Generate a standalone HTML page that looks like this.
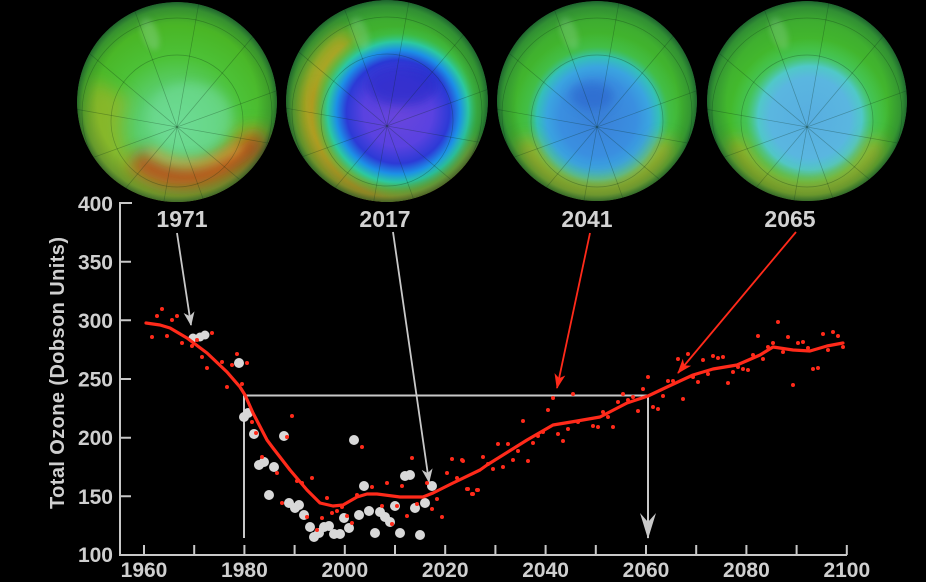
<!DOCTYPE html>
<html><head><meta charset="utf-8"><style>
html,body{margin:0;padding:0;background:#000;}
svg{display:block;}
</style></head><body>
<svg width="926" height="582" viewBox="0 0 926 582" xmlns="http://www.w3.org/2000/svg">
<defs>
<filter id="bl8" filterUnits="userSpaceOnUse" x="0" y="-30" width="926" height="280"><feGaussianBlur stdDeviation="8"/></filter>
<filter id="bl5" filterUnits="userSpaceOnUse" x="0" y="-30" width="926" height="280"><feGaussianBlur stdDeviation="5"/></filter>
<filter id="bl3" filterUnits="userSpaceOnUse" x="0" y="-30" width="926" height="280"><feGaussianBlur stdDeviation="3"/></filter>
<radialGradient id="vig" cx="0.5" cy="0.5" r="0.5">
<stop offset="0.8" stop-color="#0b3b3a" stop-opacity="0"/>
<stop offset="0.94" stop-color="#0b3b3a" stop-opacity="0.22"/>
<stop offset="1" stop-color="#06302c" stop-opacity="0.55"/>
</radialGradient>
<radialGradient id="base1" cx="0.5" cy="0.62" r="0.62">
<stop offset="0" stop-color="#6ada92"/>
<stop offset="0.3" stop-color="#5ccf72"/>
<stop offset="0.55" stop-color="#4cc238"/>
<stop offset="0.8" stop-color="#4ab626"/>
<stop offset="1" stop-color="#3ea030"/>
</radialGradient>
<radialGradient id="baseG" cx="0.5" cy="0.6" r="0.6">
<stop offset="0" stop-color="#4ac446"/>
<stop offset="0.6" stop-color="#44bc2c"/>
<stop offset="1" stop-color="#3aa232"/>
</radialGradient>
<radialGradient id="hole2" cx="0.5" cy="0.5" r="0.5">
<stop offset="0" stop-color="#6a46dc"/>
<stop offset="0.4" stop-color="#5a42e0"/>
<stop offset="0.6" stop-color="#2c3ad6"/>
<stop offset="0.72" stop-color="#1c90e6"/>
<stop offset="0.82" stop-color="#2cc8a0"/>
<stop offset="0.92" stop-color="#3cc050" stop-opacity="0.5"/>
<stop offset="1" stop-color="#3cc050" stop-opacity="0"/>
</radialGradient>
<radialGradient id="hole3" cx="0.5" cy="0.5" r="0.5">
<stop offset="0" stop-color="#3a80d8"/>
<stop offset="0.45" stop-color="#3a8fe0"/>
<stop offset="0.6" stop-color="#3aa4e0"/>
<stop offset="0.72" stop-color="#34c0b8"/>
<stop offset="0.84" stop-color="#40c060" stop-opacity="0.5"/>
<stop offset="1" stop-color="#40c060" stop-opacity="0"/>
</radialGradient>
<radialGradient id="hole4" cx="0.5" cy="0.5" r="0.5">
<stop offset="0" stop-color="#58aee0"/>
<stop offset="0.5" stop-color="#5ab6e0"/>
<stop offset="0.65" stop-color="#50c8c8"/>
<stop offset="0.8" stop-color="#44c870" stop-opacity="0.6"/>
<stop offset="1" stop-color="#44c870" stop-opacity="0"/>
</radialGradient>
<clipPath id="c1"><circle cx="177" cy="102" r="100"/></clipPath>
<clipPath id="c2"><circle cx="387" cy="101" r="101"/></clipPath>
<clipPath id="c3"><circle cx="597" cy="101" r="100"/></clipPath>
<clipPath id="c4"><circle cx="807" cy="101" r="100"/></clipPath>
<g id="mer" stroke="#0a2a12" stroke-opacity="0.3" stroke-width="0.7" fill="none">
<line x1="216.7" y1="38.2" x2="-216.7" y2="-38.2"/>
<line x1="168.5" y1="141.4" x2="-168.5" y2="-141.4"/>
<line x1="75.2" y1="206.7" x2="-75.2" y2="-206.7"/>
<line x1="-38.2" y1="216.7" x2="38.2" y2="-216.7"/>
<line x1="-141.4" y1="168.5" x2="141.4" y2="-168.5"/>
<line x1="-206.7" y1="75.2" x2="206.7" y2="-75.2"/>
<circle cx="0" cy="-6" r="66"/>
<circle cx="0" cy="-14" r="95"/>
</g>
<marker id="ag" viewBox="-16 -8 18 16" refX="0" refY="0" markerWidth="18" markerHeight="16" markerUnits="userSpaceOnUse" orient="auto">
<path d="M1,0 L-13,-5.5 L-9,0 L-13,5.5 Z" fill="#c8c8c8"/>
</marker>
<marker id="ar" viewBox="-17 -8 19 16" refX="0" refY="0" markerWidth="19" markerHeight="16" markerUnits="userSpaceOnUse" orient="auto">
<path d="M1,0 L-14,-5.5 L-10,0 L-14,5.5 Z" fill="#ff2a1a"/>
</marker>
<marker id="abig" viewBox="-27 -10 29 20" refX="0" refY="0" markerWidth="29" markerHeight="20" markerUnits="userSpaceOnUse" orient="auto">
<path d="M1,0 L-25,-8 L-16,0 L-25,8 Z" fill="#c8c8c8"/>
</marker>
</defs>
<rect width="926" height="582" fill="#000"/>

<!-- Globe 1 : 1971 -->
<g clip-path="url(#c1)">
<circle cx="177" cy="102" r="100" fill="url(#base1)"/>
<path d="M112,89.5 A75,75 0 1 0 252,127" stroke="#b8b020" stroke-width="40" fill="none" opacity="0.55" filter="url(#bl8)"/>
<path d="M135,158 Q190,205 262,138" stroke="#c24816" stroke-width="24" fill="none" opacity="0.9" filter="url(#bl8)"/>
<path d="M150,150 Q192,178 240,146" stroke="#d8c050" stroke-width="10" fill="none" opacity="0.5" filter="url(#bl5)"/>
<ellipse cx="190" cy="118" rx="42" ry="35" fill="#72dc9a" opacity="0.55" filter="url(#bl5)"/>
<ellipse cx="150" cy="34" rx="8" ry="17" transform="rotate(-20 150 34)" fill="#9ad8a0" opacity="0.35" filter="url(#bl3)"/>
<use href="#mer" x="177" y="127"/>
<circle cx="177" cy="102" r="100" fill="url(#vig)"/>
</g>

<!-- Globe 2 : 2017 -->
<g clip-path="url(#c2)">
<circle cx="387" cy="101" r="101" fill="url(#baseG)"/>
<path d="M352,41 A82,82 0 1 0 470.1,140" stroke="#c8a020" stroke-width="30" fill="none" opacity="0.8" filter="url(#bl8)"/>
<path d="M320,90 Q318,170 380,195" stroke="#c87a18" stroke-width="18" fill="none" opacity="0.45" filter="url(#bl8)"/>
<circle cx="398" cy="112" r="86" fill="url(#hole2)"/>
<ellipse cx="402" cy="86" rx="36" ry="20" fill="#1a26c4" opacity="0.6" filter="url(#bl5)"/>
<ellipse cx="360" cy="33" rx="8" ry="17" transform="rotate(-20 360 33)" fill="#9ad8a0" opacity="0.3" filter="url(#bl3)"/>
<use href="#mer" x="387" y="126"/>
<circle cx="387" cy="101" r="101" fill="url(#vig)"/>
</g>

<!-- Globe 3 : 2041 -->
<g clip-path="url(#c3)">
<circle cx="597" cy="101" r="100" fill="url(#baseG)"/>
<circle cx="598" cy="118" r="85" fill="url(#hole3)"/>
<path d="M524,140 A76,76 0 0 0 668,140" stroke="#b8a820" stroke-width="20" fill="none" opacity="0.8" filter="url(#bl8)"/>
<ellipse cx="592" cy="96" rx="22" ry="14" fill="#2858c8" opacity="0.5" filter="url(#bl5)"/>
<ellipse cx="569" cy="33" rx="8" ry="17" transform="rotate(-20 569 33)" fill="#9ad8a0" opacity="0.3" filter="url(#bl3)"/>
<use href="#mer" x="597" y="127"/>
<circle cx="597" cy="101" r="100" fill="url(#vig)"/>
</g>

<!-- Globe 4 : 2065 -->
<g clip-path="url(#c4)">
<circle cx="807" cy="101" r="100" fill="url(#baseG)"/>
<circle cx="810" cy="118" r="80" fill="url(#hole4)"/>
<path d="M734,140 A76,76 0 0 0 878,140" stroke="#b8a820" stroke-width="20" fill="none" opacity="0.75" filter="url(#bl8)"/>
<ellipse cx="779" cy="33" rx="8" ry="17" transform="rotate(-20 779 33)" fill="#9ad8a0" opacity="0.3" filter="url(#bl3)"/>
<use href="#mer" x="807" y="127"/>
<circle cx="807" cy="101" r="100" fill="url(#vig)"/>
</g>

<!-- Year labels -->
<g font-family="Liberation Sans, Arial, sans-serif" font-weight="bold" font-size="23" fill="#d2d2d2" text-anchor="middle">
<text x="182" y="227">1971</text>
<text x="385" y="227">2017</text>
<text x="587" y="227">2041</text>
<text x="790" y="227">2065</text>
</g>

<!-- Axes -->
<g stroke="#c8c8c8" stroke-width="2" fill="none">
<path d="M132,203 H120 V555 H847"/>
<path d="M120,261.7 H131 M120,320.3 H131 M120,379 H131 M120,437.7 H131 M120,496.3 H131"/>
<path d="M144,545V555 M194.2,545V555 M244.4,545V555 M294.6,545V555 M344.8,545V555 M395,545V555 M445.2,545V555 M495.4,545V555 M545.6,545V555 M595.8,545V555 M646,545V555 M696.2,545V555 M746.4,545V555 M796.6,545V555 M846.8,545V555"/>
</g>
<g font-family="Liberation Sans, Arial, sans-serif" font-weight="bold" font-size="21" fill="#cfcfcf" text-anchor="end">
<text x="113" y="211">400</text>
<text x="113" y="269.5">350</text>
<text x="113" y="328">300</text>
<text x="113" y="386.5">250</text>
<text x="113" y="445">200</text>
<text x="113" y="504">150</text>
<text x="113" y="562">100</text>
</g>
<g font-family="Liberation Sans, Arial, sans-serif" font-weight="bold" font-size="21" fill="#cfcfcf" text-anchor="middle">
<text x="144" y="577">1960</text>
<text x="244.4" y="577">1980</text>
<text x="344.8" y="577">2000</text>
<text x="445.2" y="577">2020</text>
<text x="545.6" y="577">2040</text>
<text x="646" y="577">2060</text>
<text x="746.4" y="577">2080</text>
<text x="846.8" y="577">2100</text>
</g>
<text transform="translate(64,373) rotate(-90)" font-family="Liberation Sans, Arial, sans-serif" font-weight="bold" font-size="20" fill="#cfcfcf" text-anchor="middle" textLength="272" lengthAdjust="spacing">Total Ozone (Dobson Units)</text>

<!-- reference lines -->
<g stroke="#c8c8c8" stroke-width="2" fill="none">
<path d="M244,395.5 H648 M244,395.5 V538"/>
<line x1="648" y1="395.5" x2="648" y2="538" marker-end="url(#abig)"/>
</g>

<!-- white observation dots -->
<g fill="#d8d8d8">
<circle cx="193" cy="338" r="4.5"/><circle cx="200" cy="337" r="4.5"/><circle cx="205" cy="335" r="4.5"/>
<circle cx="239" cy="363" r="5"/>
<circle cx="244" cy="417" r="5"/><circle cx="248" cy="413" r="5"/>
<circle cx="254" cy="434" r="5"/>
<circle cx="259" cy="465" r="5"/><circle cx="264" cy="462" r="5"/>
<circle cx="274" cy="467" r="5"/>
<circle cx="269" cy="495" r="5"/>
<circle cx="284" cy="436" r="5"/>
<circle cx="289" cy="503" r="5"/><circle cx="295" cy="508" r="5"/><circle cx="299" cy="505" r="5"/>
<circle cx="304" cy="515" r="5"/>
<circle cx="310" cy="527" r="5"/>
<circle cx="314" cy="537" r="5"/><circle cx="319" cy="533" r="5"/>
<circle cx="324" cy="527" r="5"/><circle cx="329" cy="526" r="5"/>
<circle cx="334" cy="534" r="5"/><circle cx="340" cy="534" r="5"/>
<circle cx="344" cy="518" r="5"/>
<circle cx="349" cy="528" r="5"/>
<circle cx="354" cy="440" r="5"/>
<circle cx="359" cy="515" r="5"/>
<circle cx="364" cy="486" r="5"/>
<circle cx="369" cy="511" r="5"/>
<circle cx="375" cy="533" r="5"/>
<circle cx="380" cy="512" r="5"/>
<circle cx="385" cy="517" r="5"/>
<circle cx="390" cy="522" r="5"/>
<circle cx="395" cy="506" r="5"/>
<circle cx="400" cy="533" r="5"/>
<circle cx="405" cy="476" r="5"/><circle cx="410" cy="475" r="5"/>
<circle cx="415" cy="508" r="5"/>
<circle cx="420" cy="535" r="5"/>
<circle cx="425" cy="503" r="5"/>
<circle cx="432" cy="486" r="5"/>
</g>

<!-- arrows -->
<g stroke="#c8c8c8" stroke-width="1.8" fill="none">
<line x1="177" y1="233" x2="191" y2="325" marker-end="url(#ag)"/>
<line x1="393" y1="232" x2="429" y2="482" marker-end="url(#ag)"/>
</g>
<g stroke="#ff2a1a" stroke-width="1.8" fill="none">
<line x1="590" y1="233" x2="557" y2="388" marker-end="url(#ar)"/>
<line x1="796" y1="232" x2="678" y2="373" marker-end="url(#ar)"/>
</g>

<!-- model curve -->
<polyline fill="none" stroke="#ff2a1a" stroke-width="3.2" stroke-linejoin="round" stroke-linecap="round"
points="146,323 160,325 170,328 187,338 207,353 227,372 240,387 245,395 253,413 267,440 273,448 290,470 307,490 320,503 333,506 343,505 357,497 367,494 377,494 400,497 423,497 433,493 453,483 480,470 487,465 527,440 553,425 577,421 600,417 627,403 648,396 667,387 693,375 713,369 737,365 760,355 773,347 793,350 810,351 827,346 843,343"/>

<!-- red model dots -->
<g fill="#ff2a1a">
<circle cx="152" cy="337" r="2"/><circle cx="157" cy="316" r="2"/><circle cx="162" cy="309" r="2"/><circle cx="167" cy="336" r="2"/><circle cx="172" cy="320" r="2"/><circle cx="177" cy="316" r="2"/><circle cx="182" cy="343" r="2"/><circle cx="192" cy="346" r="2"/><circle cx="197" cy="340" r="2"/><circle cx="202" cy="357" r="2"/><circle cx="207" cy="368" r="2"/><circle cx="212" cy="333" r="2"/><circle cx="222" cy="362" r="2"/><circle cx="232" cy="365" r="2"/><circle cx="237" cy="354" r="2"/><circle cx="247" cy="363" r="2"/><circle cx="242" cy="384" r="2"/>
<circle cx="227" cy="387" r="2"/><circle cx="252" cy="422" r="2"/><circle cx="256" cy="433" r="2"/><circle cx="262" cy="457" r="2"/><circle cx="277" cy="473" r="2"/><circle cx="282" cy="503" r="2"/><circle cx="287" cy="437" r="2"/><circle cx="292" cy="416" r="2"/><circle cx="297" cy="481" r="2"/><circle cx="302" cy="483" r="2"/><circle cx="307" cy="517" r="2"/><circle cx="312" cy="478" r="2"/><circle cx="317" cy="530" r="2"/><circle cx="322" cy="518" r="2"/><circle cx="327" cy="498" r="2"/><circle cx="332" cy="513" r="2"/><circle cx="337" cy="511" r="2"/><circle cx="342" cy="507" r="2"/><circle cx="347" cy="516" r="2"/><circle cx="352" cy="523" r="2"/><circle cx="357" cy="495" r="2"/><circle cx="362" cy="447" r="2"/><circle cx="372" cy="487" r="2"/><circle cx="382" cy="506" r="2"/><circle cx="387" cy="483" r="2"/><circle cx="392" cy="524" r="2"/><circle cx="397" cy="506" r="2"/><circle cx="402" cy="486" r="2"/><circle cx="407" cy="516" r="2"/><circle cx="412" cy="458" r="2"/><circle cx="417" cy="504" r="2"/><circle cx="427" cy="483" r="2"/><circle cx="432" cy="509" r="2"/><circle cx="437" cy="499" r="2"/><circle cx="442" cy="517" r="2"/><circle cx="447" cy="473" r="2"/><circle cx="452" cy="459" r="2"/><circle cx="457" cy="478" r="2"/><circle cx="462" cy="460" r="2"/><circle cx="467" cy="489" r="2"/><circle cx="472" cy="494" r="2"/><circle cx="477" cy="490" r="2"/>
<circle cx="463" cy="461" r="2"/><circle cx="468" cy="489" r="2"/><circle cx="473" cy="494" r="2"/><circle cx="478" cy="490" r="2"/><circle cx="483" cy="457" r="2"/><circle cx="488" cy="464" r="2"/><circle cx="493" cy="469" r="2"/><circle cx="498" cy="444" r="2"/><circle cx="503" cy="467" r="2"/><circle cx="508" cy="444" r="2"/><circle cx="513" cy="460" r="2"/><circle cx="518" cy="451" r="2"/><circle cx="523" cy="421" r="2"/><circle cx="528" cy="461" r="2"/><circle cx="533" cy="443" r="2"/><circle cx="538" cy="436" r="2"/><circle cx="543" cy="432" r="2"/><circle cx="548" cy="410" r="2"/><circle cx="553" cy="398" r="2"/><circle cx="558" cy="434" r="2"/><circle cx="563" cy="441" r="2"/><circle cx="568" cy="429" r="2"/><circle cx="573" cy="394" r="2"/><circle cx="578" cy="422" r="2"/><circle cx="593" cy="426" r="2"/><circle cx="598" cy="427" r="2"/><circle cx="603" cy="412" r="2"/><circle cx="608" cy="417" r="2"/><circle cx="613" cy="427" r="2"/><circle cx="618" cy="402" r="2"/><circle cx="623" cy="394" r="2"/><circle cx="628" cy="400" r="2"/><circle cx="633" cy="397" r="2"/><circle cx="638" cy="411" r="2"/><circle cx="643" cy="389" r="2"/><circle cx="648" cy="377" r="2"/><circle cx="653" cy="407" r="2"/><circle cx="658" cy="409" r="2"/><circle cx="663" cy="396" r="2"/><circle cx="668" cy="381" r="2"/><circle cx="673" cy="381" r="2"/><circle cx="678" cy="359" r="2"/><circle cx="683" cy="399" r="2"/><circle cx="688" cy="354" r="2"/><circle cx="693" cy="377" r="2"/><circle cx="698" cy="382" r="2"/><circle cx="703" cy="360" r="2"/><circle cx="708" cy="374" r="2"/><circle cx="713" cy="356" r="2"/><circle cx="718" cy="358" r="2"/><circle cx="723" cy="357" r="2"/><circle cx="728" cy="383" r="2"/><circle cx="733" cy="372" r="2"/><circle cx="738" cy="367" r="2"/><circle cx="743" cy="369" r="2"/><circle cx="748" cy="370" r="2"/><circle cx="753" cy="355" r="2"/><circle cx="758" cy="336" r="2"/><circle cx="763" cy="359" r="2"/><circle cx="768" cy="347" r="2"/><circle cx="773" cy="343" r="2"/><circle cx="778" cy="322" r="2"/><circle cx="783" cy="352" r="2"/><circle cx="788" cy="337" r="2"/><circle cx="793" cy="385" r="2"/><circle cx="798" cy="343" r="2"/><circle cx="803" cy="342" r="2"/><circle cx="808" cy="348" r="2"/><circle cx="813" cy="369" r="2"/><circle cx="818" cy="368" r="2"/><circle cx="823" cy="334" r="2"/><circle cx="828" cy="350" r="2"/><circle cx="833" cy="332" r="2"/><circle cx="838" cy="336" r="2"/><circle cx="843" cy="347" r="2"/>
</g>
</svg>
</body></html>
